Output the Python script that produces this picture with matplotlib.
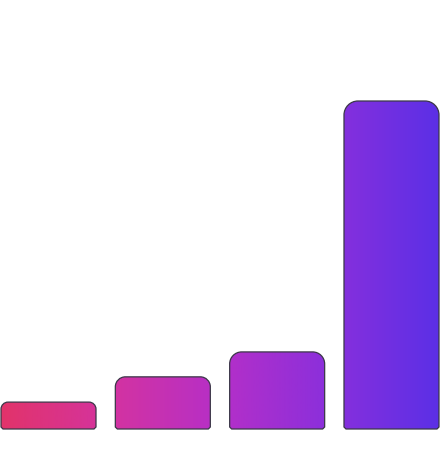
import matplotlib
matplotlib.use('Agg')
import matplotlib.pyplot as plt
import numpy as np
from matplotlib.path import Path
from matplotlib.patches import PathPatch
from matplotlib.colors import LinearSegmentedColormap

# Data (arbitrary units, tallest bar = 100)
categories = ['A', 'B', 'C', 'D']
values = [8.2, 15.9, 23.5, 100]

grad_colors = ['#e2336a', '#d433a0', '#b52fc8', '#8a2fdc', '#5b30e6']

W, H = 441, 471
fig = plt.figure(figsize=(W / 100, H / 100), dpi=100)
ax = fig.add_axes([0, 0, 1, 1])
ax.set_axis_off()

step_px = 114.33
unit_px = 3.28
xlim = (-48.5 / step_px, (W - 48.5) / step_px)
ylim = (-42 / unit_px, (H - 42) / unit_px)
ax.set_xlim(*xlim)
ax.set_ylim(*ylim)

bar_w = 95 / step_px
radii_px = [7, 10, 12, 14]
k = 0.5523

cmap = LinearSegmentedColormap.from_list('grad', grad_colors)
grad = np.linspace(0, 1, 512).reshape(1, -1)


def top_rounded_bar(xc, h, r_px):
    rx = r_px / step_px
    ry = r_px / unit_px
    bx = 2 / step_px
    by = 2 / unit_px
    x0, x1 = xc - bar_w / 2, xc + bar_w / 2
    verts = [
        (x0 + bx, 0), (x0, by), (x0, h - ry),
        (x0, h - ry + k * ry), (x0 + rx - k * rx, h), (x0 + rx, h),
        (x1 - rx, h),
        (x1 - rx + k * rx, h), (x1, h - ry + k * ry), (x1, h - ry),
        (x1, by), (x1 - bx, 0), (x0 + bx, 0),
    ]
    codes = [Path.MOVETO, Path.LINETO, Path.LINETO,
             Path.CURVE4, Path.CURVE4, Path.CURVE4,
             Path.LINETO,
             Path.CURVE4, Path.CURVE4, Path.CURVE4,
             Path.LINETO, Path.LINETO, Path.CLOSEPOLY]
    return Path(verts, codes)


for i, v in enumerate(values):
    patch = PathPatch(top_rounded_bar(i, v, radii_px[i]), facecolor='none',
                      edgecolor='#3b3748', linewidth=0.9, zorder=3)
    ax.add_patch(patch)
    im = ax.imshow(grad, cmap=cmap, aspect='auto', zorder=2,
                   extent=(xlim[0], xlim[1], ylim[0], ylim[1]))
    im.set_clip_path(patch)

ax.set_xlim(*xlim)
ax.set_ylim(*ylim)
fig.savefig('out.png', dpi=100)
